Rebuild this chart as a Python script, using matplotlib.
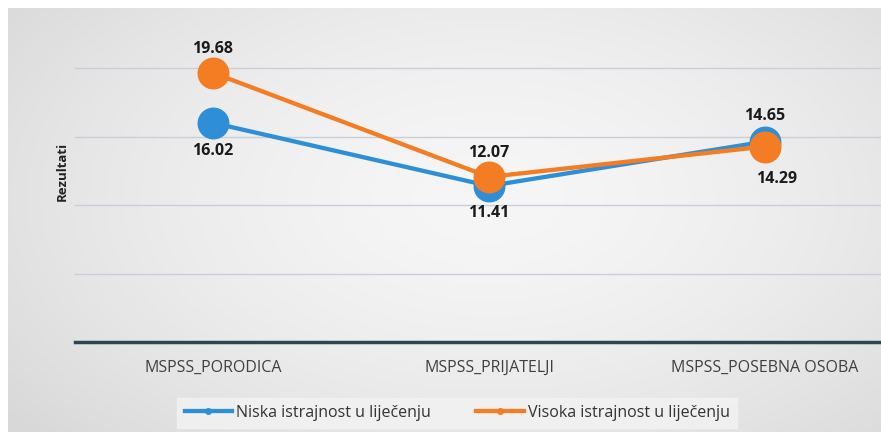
import numpy as np
import matplotlib
matplotlib.use('Agg')
import matplotlib.pyplot as plt
from matplotlib.lines import Line2D

plt.rcParams['font.family'] = ['Open Sans', 'DejaVu Sans']

categories = ['MSPSS_PORODICA', 'MSPSS_PRIJATELJI', 'MSPSS_POSEBNA OSOBA']
niska = [16.02, 11.41, 14.65]
visoka = [19.68, 12.07, 14.29]
series_names = ['Niska istrajnost u liječenju', 'Visoka istrajnost u liječenju']

blue = '#2e8fd6'
orange = '#f47c22'

fig = plt.figure(figsize=(8.81, 4.32), dpi=100)
fig.patch.set_facecolor('white')

# background gradient (darker at left edge, light in middle)
bg = fig.add_axes([0.009, 0, 0.991, 0.982])
xx, yy = np.meshgrid(np.linspace(0, 1, 300), np.linspace(0, 1, 150))
d = np.sqrt(((xx - 0.55) / 0.75) ** 2 + ((yy - 0.45) / 0.9) ** 2)
shade = 0.965 - 0.13 * np.clip(d, 0, 1) ** 1.6
bg.imshow(np.dstack([shade, shade, shade]), aspect='auto', extent=[0, 1, 0, 1])
bg.set_axis_off()

ax = fig.add_axes([0.085, 0.2083, 0.915, 0.7917])
ax.patch.set_alpha(0)
x = np.arange(len(categories))

ax.plot(x, niska, color=blue, lw=3.1, marker='o', ms=22, zorder=3)
ax.plot(x, visoka, color=orange, lw=3.1, marker='o', ms=22, zorder=4)

ax.set_xlim(-0.5, 2.42)
ax.set_ylim(0, 25)
ax.set_yticks([5, 10, 15, 20])
ax.grid(axis='y', color='#c9cfd6', lw=1)
ax.tick_params(left=False, labelleft=False, bottom=False)
for s in ['top', 'right', 'left']:
    ax.spines[s].set_visible(False)
ax.spines['bottom'].set_color('#2b4750')
ax.spines['bottom'].set_linewidth(2.5)
ax.set_xticks(x)
ax.set_xticklabels(categories, fontsize=11.5, color='#404040')
ax.tick_params(axis='x', pad=9)

fig.text(62 / 881, 1 - 171 / 432, 'Rezultati', rotation=90, fontsize=9.5,
         fontweight='bold', color='#222222', ha='center', va='center')

lbl = dict(fontsize=11.5, fontweight='bold', color='#1a1a1a', ha='center')
offs_n = [-2.05, -2.0, 1.9]
offs_v = [1.75, 1.75, -2.35]
for i in range(len(categories)):
    ax.text(x[i], niska[i] + offs_n[i], '%.2f' % niska[i], va='center', **lbl)
    ax.text(x[i] + (0.0 if i < 2 else 0.04), visoka[i] + offs_v[i], '%.2f' % visoka[i], va='center', **lbl)

handles = [Line2D([], [], color=blue, lw=3.1, marker='o', ms=4),
           Line2D([], [], color=orange, lw=3.1, marker='o', ms=4)]
leg = fig.legend(handles, series_names, loc='center', bbox_to_anchor=(0.519, 0.044),
                 ncol=2, frameon=True, fontsize=11.5, handlelength=3.0, handletextpad=0.25,
                 columnspacing=2.8, borderpad=0.45, fancybox=False)
leg.get_frame().set_facecolor('#f3f3f3')
leg.get_frame().set_edgecolor('#f3f3f3')
for t in leg.get_texts():
    t.set_color('#333333')

fig.savefig('out.png', dpi=100)
